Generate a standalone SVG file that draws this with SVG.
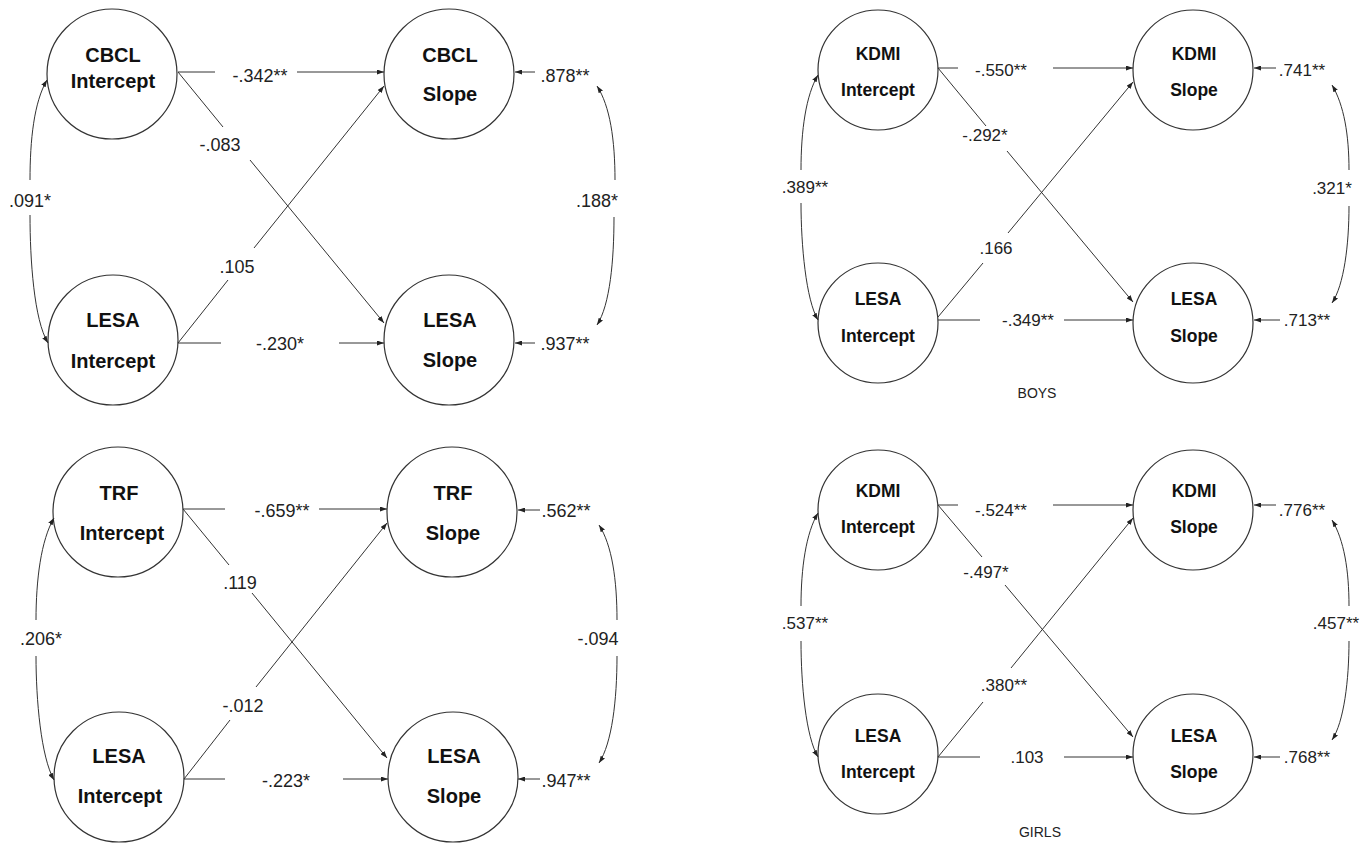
<svg xmlns="http://www.w3.org/2000/svg" width="1366" height="844" viewBox="0 0 1366 844">
  <style>
    .node ellipse { fill: #fff; stroke: #333; stroke-width: 1.2; }
    .nt { font-family: "Liberation Sans", Arial, sans-serif; font-weight: bold; fill: #111; text-anchor: middle; }
    .big .nt { font-size: 20px; }
    .small .nt { font-size: 17.5px; }
    .edges path { fill: none; stroke: #333; stroke-width: 1; }
    .ah { marker-end: url(#arrow); }
    .as { marker-start: url(#arrow); }
    .lbl { font-family: "Liberation Sans", Arial, sans-serif; fill: #222; text-anchor: middle; }
    .lbl-l { font-size: 18px; }
    .lbl-r { font-size: 17px; }
    .cap { font-family: "Liberation Sans", Arial, sans-serif; font-size: 14px; fill: #222; text-anchor: middle; }
  </style>
  <defs>
    <marker id="arrow" markerUnits="userSpaceOnUse" markerWidth="7" markerHeight="5" viewBox="0 0 7 5" refX="7" refY="2.5" orient="auto-start-reverse">
      <path d="M0,0 L7,2.5 L0,5 z" fill="#222"/>
    </marker>
  </defs>
  <rect width="1366" height="844" fill="#fff"/>

  <!-- ===== Panel: CBCL ===== -->
  <g class="big">
    <g id="cbcl-intercept" class="node">
      <ellipse cx="112" cy="74" rx="65" ry="65"/>
      <text class="nt" x="113" y="62">CBCL</text>
      <text class="nt" x="113" y="88">Intercept</text>
    </g>
    <g id="cbcl-slope" class="node">
      <ellipse cx="449" cy="74" rx="65" ry="65"/>
      <text class="nt" x="450" y="62">CBCL</text>
      <text class="nt" x="450" y="101">Slope</text>
    </g>
    <g id="cbcl-lesa-intercept" class="node">
      <ellipse cx="113" cy="340" rx="65" ry="65"/>
      <text class="nt" x="113" y="327">LESA</text>
      <text class="nt" x="113" y="368">Intercept</text>
    </g>
    <g id="cbcl-lesa-slope" class="node">
      <ellipse cx="449" cy="340" rx="65" ry="65"/>
      <text class="nt" x="450" y="327">LESA</text>
      <text class="nt" x="450" y="367">Slope</text>
    </g>
  </g>

  <!-- ===== Panel: TRF ===== -->
  <g class="big">
    <g id="trf-intercept" class="node">
      <ellipse cx="118" cy="512" rx="65" ry="65"/>
      <text class="nt" x="119" y="500">TRF</text>
      <text class="nt" x="122" y="540">Intercept</text>
    </g>
    <g id="trf-slope" class="node">
      <ellipse cx="452" cy="512" rx="65" ry="65"/>
      <text class="nt" x="453" y="500">TRF</text>
      <text class="nt" x="453" y="540">Slope</text>
    </g>
    <g id="trf-lesa-intercept" class="node">
      <ellipse cx="119" cy="777" rx="65" ry="65"/>
      <text class="nt" x="119" y="763">LESA</text>
      <text class="nt" x="120" y="803">Intercept</text>
    </g>
    <g id="trf-lesa-slope" class="node">
      <ellipse cx="453" cy="777" rx="65" ry="65"/>
      <text class="nt" x="454" y="763">LESA</text>
      <text class="nt" x="454" y="803">Slope</text>
    </g>
  </g>

  <!-- ===== Panel: KDMI boys ===== -->
  <g class="small">
    <g id="boys-kdmi-intercept" class="node">
      <ellipse cx="878" cy="70" rx="60" ry="60"/>
      <text class="nt" x="878" y="60">KDMI</text>
      <text class="nt" x="878" y="96">Intercept</text>
    </g>
    <g id="boys-kdmi-slope" class="node">
      <ellipse cx="1193" cy="70" rx="60" ry="60"/>
      <text class="nt" x="1194" y="60">KDMI</text>
      <text class="nt" x="1194" y="96">Slope</text>
    </g>
    <g id="boys-lesa-intercept" class="node">
      <ellipse cx="878" cy="323" rx="60" ry="60"/>
      <text class="nt" x="878" y="305">LESA</text>
      <text class="nt" x="878" y="342">Intercept</text>
    </g>
    <g id="boys-lesa-slope" class="node">
      <ellipse cx="1193" cy="323" rx="60" ry="60"/>
      <text class="nt" x="1194" y="305">LESA</text>
      <text class="nt" x="1194" y="342">Slope</text>
    </g>
  </g>

  <!-- ===== Panel: KDMI girls ===== -->
  <g class="small">
    <g id="girls-kdmi-intercept" class="node">
      <ellipse cx="878" cy="510" rx="60" ry="60"/>
      <text class="nt" x="878" y="497">KDMI</text>
      <text class="nt" x="878" y="533">Intercept</text>
    </g>
    <g id="girls-kdmi-slope" class="node">
      <ellipse cx="1193" cy="510" rx="60" ry="60"/>
      <text class="nt" x="1194" y="497">KDMI</text>
      <text class="nt" x="1194" y="533">Slope</text>
    </g>
    <g id="girls-lesa-intercept" class="node">
      <ellipse cx="878" cy="754" rx="60" ry="60"/>
      <text class="nt" x="878" y="742">LESA</text>
      <text class="nt" x="878" y="778">Intercept</text>
    </g>
    <g id="girls-lesa-slope" class="node">
      <ellipse cx="1193" cy="754" rx="60" ry="60"/>
      <text class="nt" x="1194" y="742">LESA</text>
      <text class="nt" x="1194" y="778">Slope</text>
    </g>
  </g>

  <!-- ===== Connectors (split around their coefficient labels) ===== -->
  <g id="connectors" class="edges">
    <!-- CBCL panel -->
    <path d="M178,72 H215"/><path class="ah" d="M297,72 H384"/>
    <path d="M178,72 L223,127"/><path class="ah" d="M250,160 L384,323"/>
    <path d="M178,343 L228,280"/><path class="ah" d="M254,248 L384,86"/>
    <path d="M178,343 H221"/><path class="ah" d="M339,343 H384"/>
    <path class="as" d="M47,80 C34,102 30,140 30,180"/><path class="ah" d="M30,215 C30,260 34,320 48,343"/>
    <path class="as" d="M597,86 C610,106 615,140 615,180"/><path class="ah" d="M614,217 C614,260 610,305 597,325"/>
    <path class="ah" d="M535,72 H515"/>
    <path class="ah" d="M535,343 H515"/>

    <!-- TRF panel -->
    <path d="M183,509 H225"/><path class="ah" d="M319,509 H387"/>
    <path d="M183,509 L229,565"/><path class="ah" d="M252,593 L387,758"/>
    <path d="M184,779 L230,720"/><path class="ah" d="M256,687 L387,523"/>
    <path d="M184,779 H225"/><path class="ah" d="M343,779 H388"/>
    <path class="as" d="M54,518 C41,540 36,580 36,620"/><path class="ah" d="M36,656 C36,700 41,757 54,780"/>
    <path class="as" d="M599,525 C612,545 617,580 617,620"/><path class="ah" d="M617,656 C617,700 612,743 599,763"/>
    <path class="ah" d="M540,510 H518"/>
    <path class="ah" d="M540,779 H518"/>

    <!-- KDMI boys panel -->
    <path d="M938,68 H958"/><path class="ah" d="M1053,68 H1133"/>
    <path d="M938,68 L986,126"/><path class="ah" d="M1007,151 L1133,302"/>
    <path d="M938,317 L983,263"/><path class="ah" d="M1008,233 L1133,82"/>
    <path d="M938,320 H980"/><path class="ah" d="M1064,320 H1133"/>
    <path class="as" d="M818,75 C806,95 801,130 801,170"/><path class="ah" d="M801,203 C801,245 806,300 818,320"/>
    <path class="as" d="M1332,85 C1344,105 1349,135 1349,170"/><path class="ah" d="M1349,206 C1349,245 1344,285 1332,303"/>
    <path class="ah" d="M1276,68 H1254"/>
    <path class="ah" d="M1280,320 H1254"/>

    <!-- KDMI girls panel -->
    <path d="M938,505 H958"/><path class="ah" d="M1053,505 H1133"/>
    <path d="M938,505 L982,557"/><path class="ah" d="M1005,585 L1133,737"/>
    <path d="M938,757 L983,702"/><path class="ah" d="M1011,668 L1133,518"/>
    <path d="M938,757 H980"/><path class="ah" d="M1064,757 H1133"/>
    <path class="as" d="M818,513 C806,533 801,568 801,606"/><path class="ah" d="M801,641 C801,685 806,737 818,757"/>
    <path class="as" d="M1332,520 C1344,540 1349,570 1349,606"/><path class="ah" d="M1349,641 C1349,680 1344,722 1332,740"/>
    <path class="ah" d="M1276,505 H1254"/>
    <path class="ah" d="M1280,757 H1254"/>
  </g>

  <!-- ===== Coefficient labels ===== -->
  <g id="labels-cbcl" class="lbl lbl-l">
    <text x="260" y="82">-.342**</text>
    <text x="220" y="151">-.083</text>
    <text x="237" y="273">.105</text>
    <text x="280" y="350">-.230*</text>
    <text x="30" y="207">.091*</text>
    <text x="565" y="82">.878**</text>
    <text x="597" y="207">.188*</text>
    <text x="565" y="350">.937**</text>
  </g>
  <g id="labels-trf" class="lbl lbl-l">
    <text x="282" y="517">-.659**</text>
    <text x="240" y="589">.119</text>
    <text x="243" y="712">-.012</text>
    <text x="286" y="787">-.223*</text>
    <text x="41" y="645">.206*</text>
    <text x="566" y="517">.562**</text>
    <text x="598" y="645">-.094</text>
    <text x="566" y="787">.947**</text>
  </g>
  <g id="labels-boys" class="lbl lbl-r">
    <text x="1001" y="76">-.550**</text>
    <text x="985" y="141">-.292*</text>
    <text x="996" y="254">.166</text>
    <text x="1028" y="326">-.349**</text>
    <text x="805" y="193">.389**</text>
    <text x="1302" y="76">.741**</text>
    <text x="1332" y="194">.321*</text>
    <text x="1307" y="326">.713**</text>
  </g>
  <text class="cap" x="1037" y="398">BOYS</text>
  <g id="labels-girls" class="lbl lbl-r">
    <text x="1001" y="516">-.524**</text>
    <text x="986" y="578">-.497*</text>
    <text x="1004" y="691">.380**</text>
    <text x="1027" y="763">.103</text>
    <text x="805" y="629">.537**</text>
    <text x="1302" y="516">.776**</text>
    <text x="1336" y="629">.457**</text>
    <text x="1307" y="763">.768**</text>
  </g>
  <text class="cap" x="1040" y="837">GIRLS</text>
</svg>
